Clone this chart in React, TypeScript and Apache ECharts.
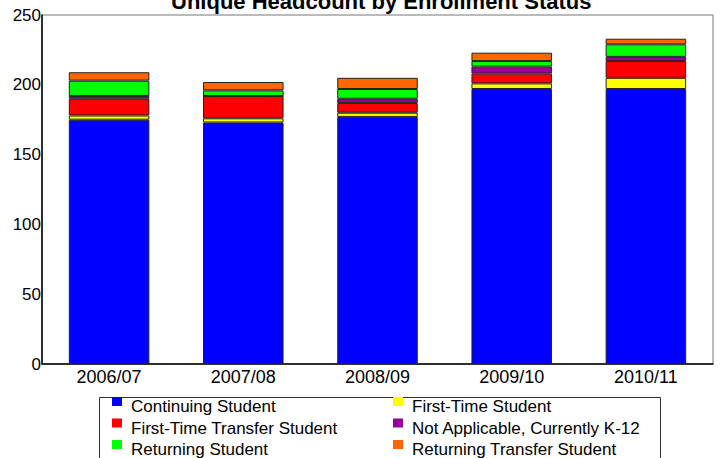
import React, { useEffect, useRef } from "react";
import * as echarts from "echarts";

const categories = ["2006/07", "2007/08", "2008/09", "2009/10", "2010/11"];
const seriesNames = [
  "Continuing Student",
  "First-Time Student",
  "First-Time Transfer Student",
  "Not Applicable, Currently K-12",
  "Returning Student",
  "Returning Transfer Student",
];
const continuing = [175, 173, 177, 197, 197];
const firstTime = [3, 3, 3, 4, 8];
const firstTimeTransfer = [12, 16, 7, 7, 12];
const notApplicable = [2, 0, 3, 5, 3];
const returning = [11, 4, 7, 4, 9];
const returningTransfer = [6, 6, 8, 6, 4];
const colors = ["#0000ff", "#ffff00", "#ff0000", "#990099", "#00ff00", "#ff6600"];
const yTicks = { min: 0, max: 250, interval: 50 };

export default function App() {
  const ref = useRef<HTMLDivElement>(null);
  useEffect(() => {
    const chart = echarts.init(ref.current!, null, { renderer: "svg" });
    const values = [continuing, firstTime, firstTimeTransfer, notApplicable, returning, returningTransfer];
    const font = "'Liberation Sans', Arial, sans-serif";
    const legendText = {
      color: "#000",
      fontSize: 17,
      fontFamily: font,
      lineHeight: 19,
      padding: [0, 0, 0, 4],
    };
    const icon = "path://M0,0h10v9h-10z M0,19h0.01v0.01h-0.01z";
    const legendBase = {
      orient: "vertical",
      top: 397,
      height: 80,
      padding: 0,
      itemGap: 2.5,
      itemWidth: 10,
      itemHeight: 19,
      icon,
      selectedMode: false,
      itemStyle: { borderWidth: 0 },
      textStyle: legendText,
    };
    chart.setOption({
      animation: false,
      backgroundColor: "#fff",
      title: {
        text: "Unique Headcount by Enrollment Status",
        left: 166,
        top: -15,
        textStyle: { fontSize: 22, fontWeight: "bold", color: "#000", fontFamily: font },
      },
      grid: {
        left: 42,
        right: 10,
        top: 15,
        bottom: 94,
        show: true,
        borderColor: "#777",
        borderWidth: 1,
      },
      legend: [
        { ...legendBase, left: 112, data: [seriesNames[0], seriesNames[2], seriesNames[4]] },
        { ...legendBase, left: 393, data: [seriesNames[1], seriesNames[3], seriesNames[5]] },
      ],
      graphic: [
        {
          type: "rect",
          left: 97,
          top: 395,
          shape: { width: 561, height: 70 },
          style: { fill: "none", stroke: "#333", lineWidth: 1 },
          z: -1,
        },
      ],
      xAxis: {
        type: "category",
        data: categories,
        axisLine: { lineStyle: { color: "#000", width: 1.5 } },
        axisTick: { show: false },
        axisLabel: { color: "#000", fontSize: 18, fontFamily: font, margin: 4 },
      },
      yAxis: {
        type: "value",
        min: yTicks.min,
        max: yTicks.max,
        interval: yTicks.interval,
        splitLine: { show: false },
        axisLine: { show: true, lineStyle: { color: "#000", width: 1.5 } },
        axisTick: { show: false },
        axisLabel: { color: "#000", fontSize: 17, fontFamily: font, margin: 1 },
      },
      series: seriesNames.map((name, i) => ({
        name,
        type: "bar",
        stack: "total",
        barWidth: "60%",
        data: values[i],
        itemStyle: { color: colors[i], borderColor: "#222", borderWidth: 1 },
      })),
    });
    return () => chart.dispose();
  }, []);
  return <div ref={ref} style={{ position: "fixed", left: 0, top: 0, width: 723, height: 458 }} />;
}
